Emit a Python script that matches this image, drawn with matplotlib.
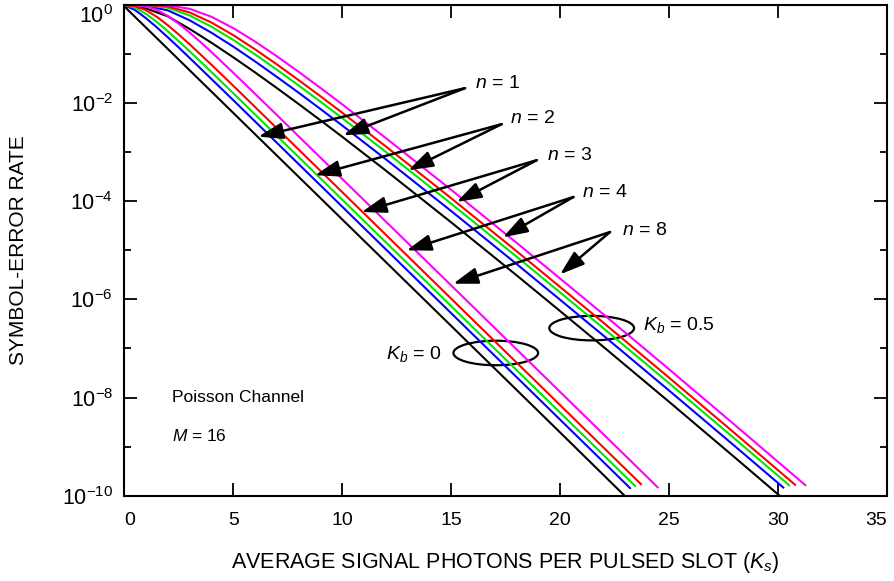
import matplotlib
matplotlib.use('Agg')
import matplotlib.pyplot as plt
from matplotlib.patches import Ellipse
from matplotlib.ticker import NullFormatter

plt.rcParams['font.family'] = ['Liberation Sans', 'DejaVu Sans']
plt.rcParams['mathtext.fontset'] = 'custom'
plt.rcParams['mathtext.rm'] = 'Liberation Sans'
plt.rcParams['mathtext.it'] = 'Liberation Sans:italic'
plt.rcParams['mathtext.bf'] = 'Liberation Sans:bold'

# ---------------- data ----------------
# Kb = 0 family
ks_b0_n1 = [0, 5, 10, 15, 20, 22.95]
pe_b0_n1 = [0.9375, 6.32e-3, 4.26e-5, 2.87e-7, 1.93e-9, 1.0e-10]

ks_b0_n2 = [0, 0.5, 1, 1.5, 2, 2.5, 3, 4, 5, 6, 7, 8, 10, 12, 15, 18, 20, 22, 23.2]
pe_b0_n2 = [0.994, 0.784, 0.537, 0.348, 0.219, 0.136, 0.0833, 0.0310, 0.0115, 4.23e-3,
            1.555e-3, 5.72e-4, 7.75e-5, 1.048e-5, 5.22e-7, 2.60e-8, 3.52e-9, 4.76e-10, 1.43e-10]

ks_b0_n3 = [0, 0.5, 1, 1.5, 2, 2.5, 3, 4, 5, 6, 7, 8, 10, 12, 15, 18, 20, 22, 23.43]
pe_b0_n3 = [0.999, 0.881, 0.657, 0.448, 0.291, 0.183, 0.114, 0.0429, 0.0159, 5.87e-3,
            2.16e-3, 7.95e-4, 1.077e-4, 1.457e-5, 7.26e-7, 3.61e-8, 4.89e-9, 6.62e-10, 1.58e-10]

ks_b0_n4 = [0, 0.5, 1, 1.5, 2, 2.5, 3, 4, 5, 6, 7, 8, 10, 12, 15, 18, 20, 22, 23.7]
pe_b0_n4 = [1.0, 0.952, 0.782, 0.570, 0.386, 0.250, 0.158, 0.0605, 0.0226, 8.34e-3,
            3.07e-3, 1.132e-3, 1.532e-4, 2.074e-5, 1.032e-6, 5.14e-8, 6.96e-9, 9.41e-10, 1.72e-10]

ks_b0_n8 = [0, 0.5, 1, 1.5, 2, 2.5, 3, 3.5, 4, 5, 6, 7, 8, 10, 12, 15, 18, 20, 22, 24, 24.47]
pe_b0_n8 = [1.0, 0.996, 0.941, 0.793, 0.597, 0.415, 0.274, 0.175, 0.1095, 0.0416, 0.0155,
            5.72e-3, 2.105e-3, 2.851e-4, 3.858e-5, 1.921e-6, 9.56e-8, 1.294e-8, 1.751e-9,
            2.371e-10, 1.48e-10]

# Kb = 0.5 family
ks_b5 = [0, 1, 2, 3, 4, 5, 6, 7, 8, 9, 10, 12, 15, 18, 20, 22, 25, 28]
ks_b5_end = {1: 30.06, 2: 30.23, 3: 30.5, 4: 30.77, 8: 31.24}
pe_b5_n1 = [0.9375, 0.851, 0.586, 0.325, 0.170, 0.0859, 0.0423, 0.0203, 9.59e-3, 4.47e-3,
            2.06e-3, 4.22e-4, 3.71e-5, 3.09e-6, 5.75e-7, 1.06e-7, 8.13e-9, 6.05e-10, 1.0e-10]
pe_b5_n2 = [0.991, 0.961, 0.777, 0.487, 0.272, 0.142, 0.0708, 0.0343, 0.0163, 7.59e-3,
            3.50e-3, 7.17e-4, 6.31e-5, 5.25e-6, 9.78e-7, 1.80e-7, 1.38e-8, 1.03e-9, 1.47e-10]
pe_b5_n3 = [0.999, 0.990, 0.880, 0.611, 0.361, 0.194, 0.0985, 0.0480, 0.0229, 0.0107,
            4.94e-3, 1.013e-3, 8.90e-5, 7.42e-6, 1.38e-6, 2.54e-7, 1.95e-8, 1.45e-9, 1.63e-10]
pe_b5_n4 = [1.0, 0.997, 0.935, 0.704, 0.439, 0.243, 0.125, 0.0616, 0.0294, 0.0138,
            6.37e-3, 1.308e-3, 1.150e-4, 9.58e-6, 1.78e-6, 3.29e-7, 2.52e-8, 1.88e-9, 1.67e-10]
pe_b5_n8 = [1.0, 1.0, 0.983, 0.836, 0.576, 0.338, 0.180, 0.0900, 0.0434, 0.0204,
            9.44e-3, 1.941e-3, 1.707e-4, 1.421e-5, 2.645e-6, 4.88e-7, 3.74e-8, 2.78e-9, 1.64e-10]

n_values = [1, 2, 3, 4, 8]
colors = {1: '#000000', 2: '#0000ff', 3: '#00e600', 4: '#ff0000', 8: '#ff00ff'}

x_ticks = [0, 5, 10, 15, 20, 25, 30, 35]
y_major = [1e0, 1e-2, 1e-4, 1e-6, 1e-8, 1e-10]
y_major_labels = ['$10^{0}$', '$10^{-2}$', '$10^{-4}$', '$10^{-6}$', '$10^{-8}$', '$10^{-10}$']
y_minor = [1e-1, 1e-3, 1e-5, 1e-7, 1e-9]

# annotation anchors (Ks, Pe): label position, arrow start, arrow tips
ann_n = {
    1: dict(label=(16.09, 2.5e-2), start=(15.63, 2.02e-2), tips=[(6.15, 2.08e-3), (10.05, 2.22e-3)]),
    2: dict(label=(17.69, 4.94e-3), start=(17.31, 3.73e-3), tips=[(8.75, 3.40e-4), (13.03, 4.29e-4)]),
    3: dict(label=(19.39, 8.69e-4), start=(18.92, 6.87e-4), tips=[(10.89, 6.05e-5), (15.25, 9.68e-5)]),
    4: dict(label=(20.99, 1.53e-4), start=(20.60, 1.22e-4), tips=[(12.95, 1.0e-5), (17.37, 1.84e-5)]),
    8: dict(label=(22.83, 2.56e-5), start=(22.28, 2.36e-5), tips=[(15.09, 2.09e-6), (19.99, 3.24e-6)]),
}
ellipse_b0 = (17.04, 8.1e-8)
ellipse_b5 = (21.44, 2.6e-7)

# ---------------- figure ----------------
fig = plt.figure(figsize=(8.94, 5.81), dpi=100)
ax = fig.add_axes([0.139, 0.1468, 0.8535, 0.8446])

b0 = {1: (ks_b0_n1, pe_b0_n1), 2: (ks_b0_n2, pe_b0_n2), 3: (ks_b0_n3, pe_b0_n3),
      4: (ks_b0_n4, pe_b0_n4), 8: (ks_b0_n8, pe_b0_n8)}
b5 = {1: pe_b5_n1, 2: pe_b5_n2, 3: pe_b5_n3, 4: pe_b5_n4, 8: pe_b5_n8}

for n in n_values:
    ks, pe = b0[n]
    ax.semilogy(ks, pe, color=colors[n], lw=1.5, solid_joinstyle='round')
    ax.semilogy(ks_b5 + [ks_b5_end[n]], b5[n], color=colors[n], lw=1.5, solid_joinstyle='round')

ax.set_xlim(0, 35)
ax.set_ylim(1e-10, 1)
ax.set_xticks(x_ticks, [str(v) for v in x_ticks])
ax.set_yticks(y_major, y_major_labels)
ax.set_yticks(y_minor, minor=True)
ax.yaxis.set_minor_formatter(NullFormatter())
ax.tick_params(which='both', direction='in', top=True, right=True, width=1.3)
ax.tick_params(axis='x', labelsize=14, pad=12)
ax.tick_params(axis='y', labelsize=15.5, pad=8)
ax.tick_params(which='major', length=9.5)
ax.tick_params(which='minor', length=4.7)
xl = ax.get_xticklabels()
xl[0].set_horizontalalignment('left')
xl[-1].set_horizontalalignment('right')
yl = ax.get_yticklabels()
yl[0].set_verticalalignment('top')
for s in ax.spines.values():
    s.set_linewidth(1.5)

ax.set_xlabel('AVERAGE SIGNAL PHOTONS PER PULSED SLOT ($K_s$)', fontsize=15.5, va='center')
ax.xaxis.set_label_coords(0.5, -0.136)
ax.set_ylabel('SYMBOL-ERROR RATE', fontsize=15, va='center')
ax.yaxis.set_label_coords(-0.139, 0.5)

arrow_style = '-|>,head_length=1.5,head_width=0.5'
for n in n_values:
    a = ann_n[n]
    ax.text(a['label'][0], a['label'][1], '$n$ = %d' % n, fontsize=14, ha='left', va='center')
    for tip in a['tips']:
        ax.annotate('', xy=tip, xytext=a['start'],
                    arrowprops=dict(arrowstyle=arrow_style, mutation_scale=10, lw=1.8,
                                    color='black', shrinkA=0, shrinkB=0))

to_axes = ax.transData + ax.transAxes.inverted()
for c in (ellipse_b0, ellipse_b5):
    cx, cy = to_axes.transform(c)
    ax.add_patch(Ellipse((cx, cy), width=0.111, height=0.050, transform=ax.transAxes,
                         fill=False, lw=1.6, ec='black'))

ax.text(14.56, 6.25e-8, '$K_b$ = 0', fontsize=14, ha='right', va='baseline')
ax.text(23.79, 2.33e-7, '$K_b$ = 0.5', fontsize=14, ha='left', va='baseline')
ax.text(2.19, 8.3e-9, 'Poisson Channel', fontsize=12.5, ha='left', va='baseline')
ax.text(2.19, 1.32e-9, '$M$ = 16', fontsize=12.5, ha='left', va='baseline')

fig.savefig('out.png', dpi=100)
